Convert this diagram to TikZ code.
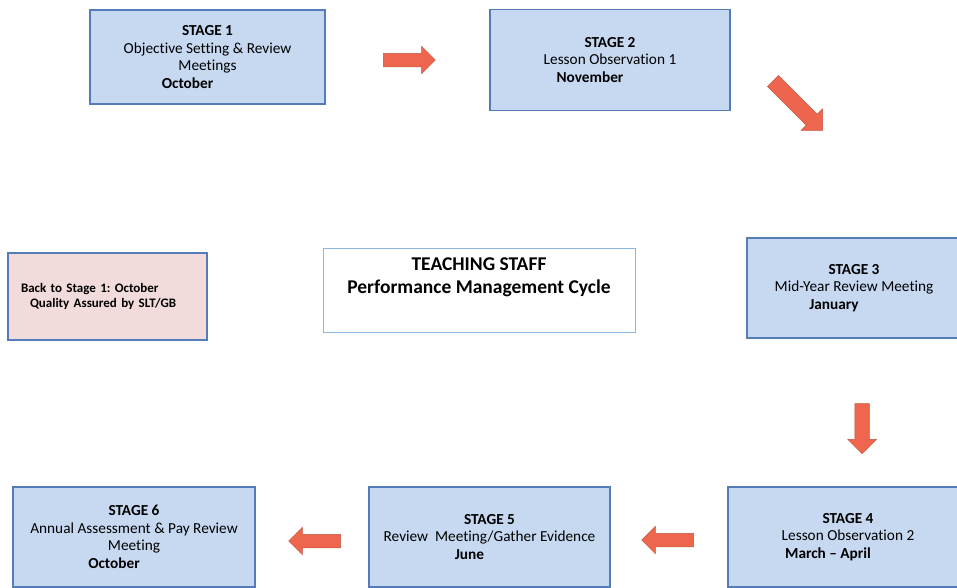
\documentclass[tikz,border=0pt]{standalone}
\usepackage{fontspec}
\setmainfont{Carlito}[Ligatures=NoCommon]
\usetikzlibrary{positioning,shapes.arrows}
\definecolor{stfill}{RGB}{198,217,241}
\definecolor{stdraw}{RGB}{84,124,184}
\definecolor{pkfill}{RGB}{242,220,219}
\definecolor{ttldraw}{RGB}{141,180,226}
\definecolor{arfill}{RGB}{238,102,78}
\definecolor{ardraw}{RGB}{196,84,66}
\newcommand{\mon}[1]{\hspace*{-40pt}\textbf{#1}}
\frenchspacing
\tikzset{
  stagebox/.style={draw=stdraw,fill=stfill,line width=1.4pt,align=center,
    minimum width=240pt,minimum height=100pt,inner sep=0pt,
    font=\fontsize{15.3}{17.5}\selectfont},
  backbox/.style={draw=stdraw,fill=pkfill,line width=1.2pt,align=left,
    text width=173pt,inner xsep=13pt,minimum height=87pt,
    font=\fontsize{13}{15.5}\selectfont\bfseries},
  ttlbox/.style={draw=ttldraw,fill=white,line width=1pt,
    minimum width=312pt,minimum height=84pt,inner sep=0pt},
  ttltxt/.style={align=center,font=\fontsize{19.5}{23}\selectfont\bfseries},
  blockarr/.style={single arrow,draw=ardraw,fill=arfill,line width=0.5pt,
    inner sep=6.5pt,single arrow head extend=7pt,minimum height=52pt},
}

\begin{document}
\begin{tikzpicture}[x=1pt,y=-1pt]
  \useasboundingbox (0,0) rectangle (957,587);
  % top row
  \node[stagebox,minimum width=235pt,minimum height=94pt] (s1) at (207.5,57)
    {\textbf{STAGE 1}\\Objective Setting \& Review\\Meetings\\\mon{October}};
  \node[stagebox,minimum height=101pt] (s2) at (610,60)
    {\textbf{STAGE 2}\\Lesson Observation 1\\\mon{November}};
  % right side
  \node[stagebox,minimum width=214pt] (s3) at (854,288)
    {\textbf{STAGE 3}\\Mid-Year Review Meeting\\\mon{January}};
  \node[stagebox] (s4) at (848,537)
    {\textbf{STAGE 4}\\Lesson Observation 2\\\mon{March -- April}};
  % bottom row
  \node[stagebox,minimum width=241pt] (s5) at (489.5,537)
    {\textbf{STAGE 5}\\Review\ \ Meeting/Gather Evidence\\\mon{June}};
  \node[stagebox,minimum width=242pt] (s6) at (134,537)
    {\textbf{STAGE 6}\\Annual Assessment \& Pay Review\\Meeting\\\mon{October}};
  % middle
  \node[backbox] (back) at (107.5,296.5)
    {Back to Stage 1: October\\\hspace*{9pt}Quality Assured by SLT/GB};
  \node[ttlbox] (ttlb) at (479,290) {};
  \node[ttltxt] (ttl) at (479,277) {TEACHING STAFF\\Performance Management Cycle};
  % block arrows between the stages
  \node[blockarr] (a12) at (406,60) {};
  \node[blockarr,rotate=-45,minimum height=70pt,inner sep=7.5pt,
    single arrow head extend=7.5pt] (a23) at (795,103) {};
  \node[blockarr,rotate=-90,minimum height=50pt,inner sep=7pt] (a34) at (862,425) {};
  \node[blockarr,rotate=180] (a45) at (671,540) {};
  \node[blockarr,rotate=180] (a56) at (318,541) {};
\end{tikzpicture}
\end{document}
